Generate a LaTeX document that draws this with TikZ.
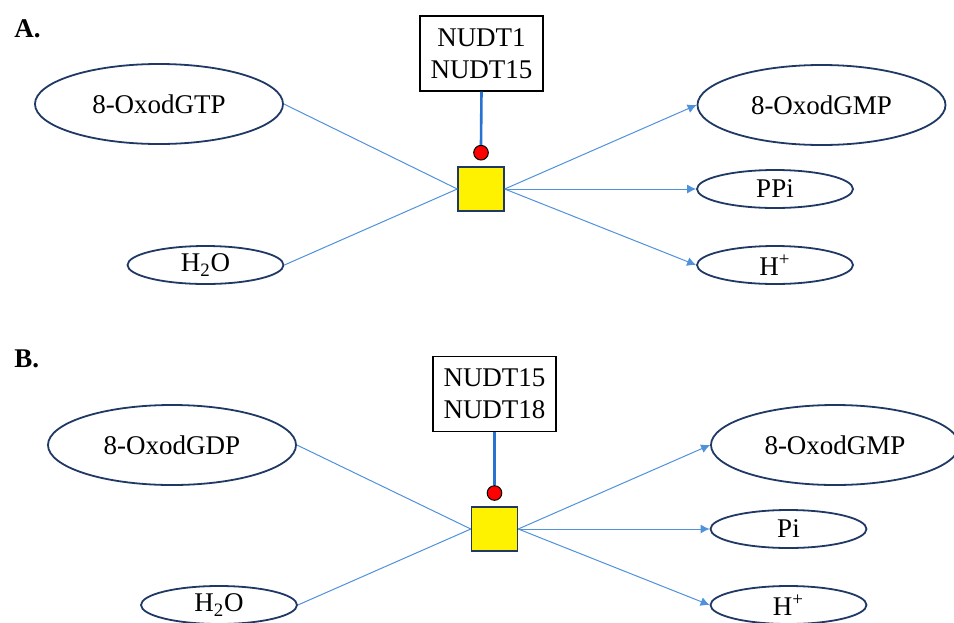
\documentclass[tikz,border=0pt]{standalone}
\usepackage{fontspec}
\setmainfont{Liberation Serif}
\usetikzlibrary{shapes.geometric,arrows.meta}
\definecolor{ovalline}{RGB}{31,56,100}
\definecolor{linkblue}{RGB}{80,145,220}
\definecolor{modblue}{RGB}{40,115,210}
\begin{document}
\begin{tikzpicture}[x=0.5pt,y=-0.5pt,
  big/.style={ellipse,draw=ovalline,line width=0.9pt,minimum width=124pt,minimum height=40pt,inner sep=0pt,font=\fontsize{13.5}{15}\selectfont},
  small/.style={ellipse,draw=ovalline,line width=0.9pt,minimum width=78pt,minimum height=19pt,inner sep=0pt,font=\fontsize{13.5}{15}\selectfont},
  enzyme/.style={rectangle,draw=black,line width=0.6pt,minimum width=61.5pt,minimum height=37.5pt,inner sep=0pt,align=center,font=\fontsize{13.5}{16}\selectfont},
  process/.style={rectangle,draw=ovalline,fill=yellow,line width=0.7pt,minimum width=23pt,minimum height=22pt,inner sep=0pt},
  catdot/.style={circle,draw=black,fill=red,line width=0.5pt,minimum size=7.3pt,inner sep=0pt},
  link/.style={draw=linkblue,line width=0.5pt},
  prod/.style={link,-{Latex[length=4.5pt,width=4.5pt]}},
  modif/.style={draw=modblue,line width=1.3pt},
  panel/.style={anchor=base west,inner sep=0pt,font=\fontsize{13.5}{15}\selectfont\bfseries}]
\useasboundingbox (0,0) rectangle (954,622);
\clip (0,0) rectangle (954,622);

% Panel A: 8-oxo-dGTP hydrolysis
\node[panel] (labA) at (14,37) {A.};
\node[enzyme] (enzA) at (481.5,53.5) {NUDT1\\NUDT15};
\node[catdot] (dotA) at (481,152.7) {};
\node[process] (rxnA) at (481,189) {};
\node[big] (subA) at (159,104) {8-OxodGTP};
\node[small] (watA) at (205.5,265) {H\textsubscript{2}O};
\node[big] (gmpA) at (821.5,105) {8-OxodGMP};
\node[small] (ppiA) at (775,189) {PPi};
\node[small] (hA) at (775,265) {H\textsuperscript{+}};

\draw[link] (subA.east) -- (rxnA.west);
\draw[link] (watA.east) -- (rxnA.west);
\draw[prod] (rxnA.east) -- (gmpA.west);
\draw[prod] (rxnA.east) -- (ppiA.west);
\draw[prod] (rxnA.east) -- (hA.west);
\draw[modif] (enzA.south) -- (dotA.north);

% Panel B: 8-oxo-dGDP hydrolysis
\node[panel] (labB) at (14,367) {B.};
\node[enzyme] (enzB) at (494.5,394) {NUDT15\\NUDT18};
\node[catdot] (dotB) at (494.5,493) {};
\node[process] (rxnB) at (494.5,529) {};
\node[big] (subB) at (172,445) {8-OxodGDP};
\node[small] (watB) at (219,605) {H\textsubscript{2}O};
\node[big] (gmpB) at (835,445) {8-OxodGMP};
\node[small] (piB) at (788.5,529) {Pi};
\node[small] (hB) at (788.5,605) {H\textsuperscript{+}};

\draw[link] (subB.east) -- (rxnB.west);
\draw[link] (watB.east) -- (rxnB.west);
\draw[prod] (rxnB.east) -- (gmpB.west);
\draw[prod] (rxnB.east) -- (piB.west);
\draw[prod] (rxnB.east) -- (hB.west);
\draw[modif] (enzB.south) -- (dotB.north);
\end{tikzpicture}
\end{document}
